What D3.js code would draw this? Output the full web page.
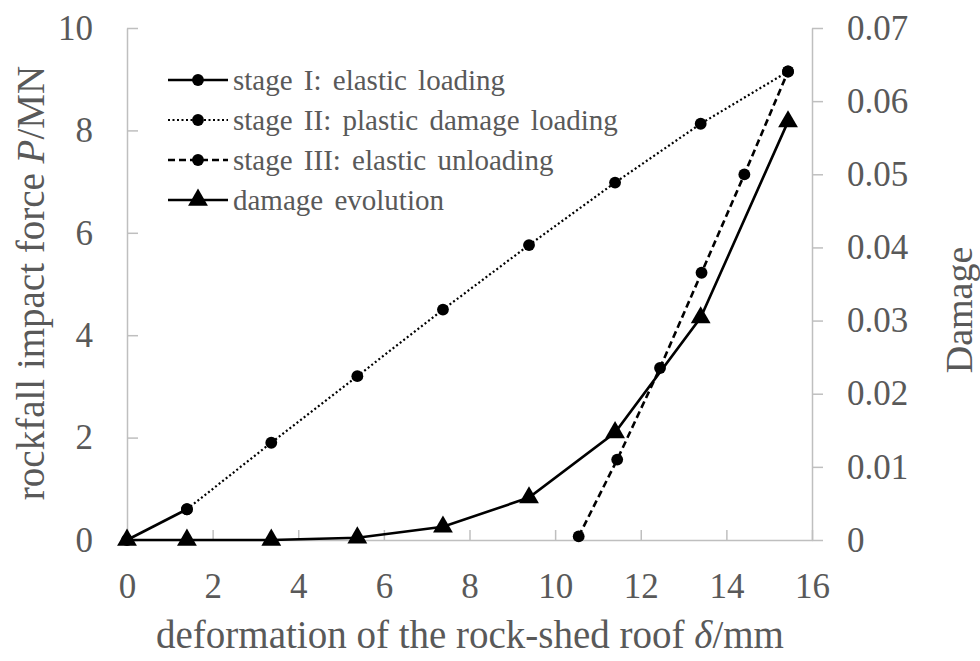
<!DOCTYPE html>
<html>
<head>
<meta charset="utf-8">
<script src="https://cdn.jsdelivr.net/npm/d3@7"></script>
</head>
<body style="margin:0; background:#fff">
<svg width="980" height="661"></svg>
<script>
// values
var stage1X = [0, 1.4];
var stage1P = [0, 0.6];
var stage2X = [1.4, 3.37, 5.38, 7.38, 9.39, 11.4, 13.4, 15.44];
var stage2P = [0.6, 1.9, 3.2, 4.5, 5.76, 6.98, 8.13, 9.15];
var stage3X = [10.55, 11.45, 12.45, 13.42, 14.42, 15.44];
var stage3P = [0.07, 1.57, 3.36, 5.22, 7.14, 9.15];
var damageX = [0, 1.4, 3.37, 5.38, 7.38, 9.39, 11.4, 13.4, 15.44];
var damageD = [0, 0, 0, 0.0003, 0.0018, 0.0058, 0.0147, 0.0304, 0.0572];

var xTicks = [0, 2, 4, 6, 8, 10, 12, 14, 16];
var pTicks = [0, 2, 4, 6, 8, 10];
var dTicks = [0, 0.01, 0.02, 0.03, 0.04, 0.05, 0.06, 0.07];

var legendLabels = ['stage I: elastic loading', 'stage II: plastic damage loading',
    'stage III: elastic unloading', 'damage evolution'];

var svg = d3.select('svg');
var serif = 'Liberation Serif';
var textColor = '#595959';
var axisColor = '#bfbfbf';

var plot = {l: 127, r: 812, t: 28, b: 540};

var x = d3.scaleLinear().domain([0, 16]).range([plot.l, plot.r]);
var yP = d3.scaleLinear().domain([0, 10]).range([plot.b, plot.t]);
var yD = d3.scaleLinear().domain([0, 0.07]).range([plot.b, plot.t]);

// axes
var xAxisG = svg.append('g')
    .attr('transform', 'translate(0,' + plot.b + ')')
    .call(d3.axisBottom(x).tickValues(xTicks).tickSizeInner(-10).tickSizeOuter(0).tickPadding(33));

var pAxisG = svg.append('g')
    .attr('transform', 'translate(' + plot.l + ',0)')
    .call(d3.axisLeft(yP).tickValues(pTicks).tickSizeInner(-11).tickSizeOuter(0).tickPadding(34));

var dAxisG = svg.append('g')
    .attr('transform', 'translate(' + plot.r + ',0)')
    .call(d3.axisRight(yD).tickValues(dTicks).tickFormat(function(d){ return d === 0 ? '0' : d3.format('.2f')(d); })
        .tickSizeInner(11).tickSizeOuter(0).tickPadding(24));

[xAxisG, pAxisG, dAxisG].forEach(function(g){
    g.attr('font-family', serif).attr('font-size', 35);
    g.selectAll('path, line').attr('stroke', axisColor).attr('stroke-width', 1.5);
    g.selectAll('text').attr('fill', textColor).attr('font-family', serif);
});

// axis titles
var leftTitle = svg.append('text')
    .attr('transform', 'translate(44,283)rotate(-90)')
    .attr('text-anchor', 'middle')
    .attr('font-family', serif)
    .attr('font-size', 39)
    .attr('fill', textColor);
leftTitle.append('tspan').text('rockfall impact force ');
leftTitle.append('tspan').attr('font-style', 'italic').text('P');
leftTitle.append('tspan').text('/MN');

var bottomTitle = svg.append('text')
    .attr('x', 470)
    .attr('y', 648)
    .attr('text-anchor', 'middle')
    .attr('font-family', serif)
    .attr('font-size', 39)
    .attr('fill', textColor);
bottomTitle.append('tspan').text('deformation of the rock-shed roof ');
bottomTitle.append('tspan').attr('font-style', 'italic').text('\u03b4');
bottomTitle.append('tspan').text('/mm');

svg.append('text')
    .attr('transform', 'translate(972,310)rotate(-90)')
    .attr('text-anchor', 'middle')
    .attr('font-family', serif)
    .attr('font-size', 38)
    .attr('fill', textColor)
    .text('Damage');

// series
function pts(xs, ys, yScale) {
    return xs.map(function(v, i){ return [x(v), yScale(ys[i])]; });
}
var line = d3.line();

var series = [
    {points: pts(stage1X, stage1P, yP), dash: null, marker: 'circle'},
    {points: pts(stage2X, stage2P, yP), dash: '2,2.5', marker: 'circle'},
    {points: pts(stage3X, stage3P, yP), dash: '7,4', marker: 'circle'},
    {points: pts(damageX, damageD, yD), dash: null, marker: 'triangle'}
];

var circleSym = d3.symbol().type(d3.symbolCircle).size(110);
var triSym = d3.symbol().type(d3.symbolTriangle).size(170);

series.forEach(function(s){
    svg.append('path')
        .attr('d', line(s.points))
        .attr('fill', 'none')
        .attr('stroke', '#000')
        .attr('stroke-width', s.dash === '2,2.5' ? 2.2 : 2.6)
        .attr('stroke-dasharray', s.dash);
});

series.forEach(function(s){
    svg.selectAll(null)
        .data(s.points)
        .enter()
        .append('path')
        .attr('d', s.marker === 'circle' ? circleSym() : triSym())
        .attr('transform', function(d){ return 'translate(' + d + ')'; })
        .attr('fill', '#000');
});

// legend
var legend = svg.append('g').attr('transform', 'translate(168,80)');
legendLabels.forEach(function(label, i){
    var s = series[i];
    var row = legend.append('g').attr('transform', 'translate(0,' + (i * 40) + ')');
    row.append('line')
        .attr('x1', 0).attr('x2', 60)
        .attr('stroke', '#000')
        .attr('stroke-width', s.dash === '2,2.5' ? 2.2 : 2.6)
        .attr('stroke-dasharray', s.dash);
    row.append('path')
        .attr('transform', 'translate(30,0)')
        .attr('d', s.marker === 'circle' ? circleSym() : triSym())
        .attr('fill', '#000');
    row.append('text')
        .attr('x', 65)
        .attr('dy', '0.33em')
        .attr('font-family', serif)
        .attr('font-size', 29)
        .attr('word-spacing', 4)
        .attr('fill', textColor)
        .text(label);
});
</script>
</body>
</html>
